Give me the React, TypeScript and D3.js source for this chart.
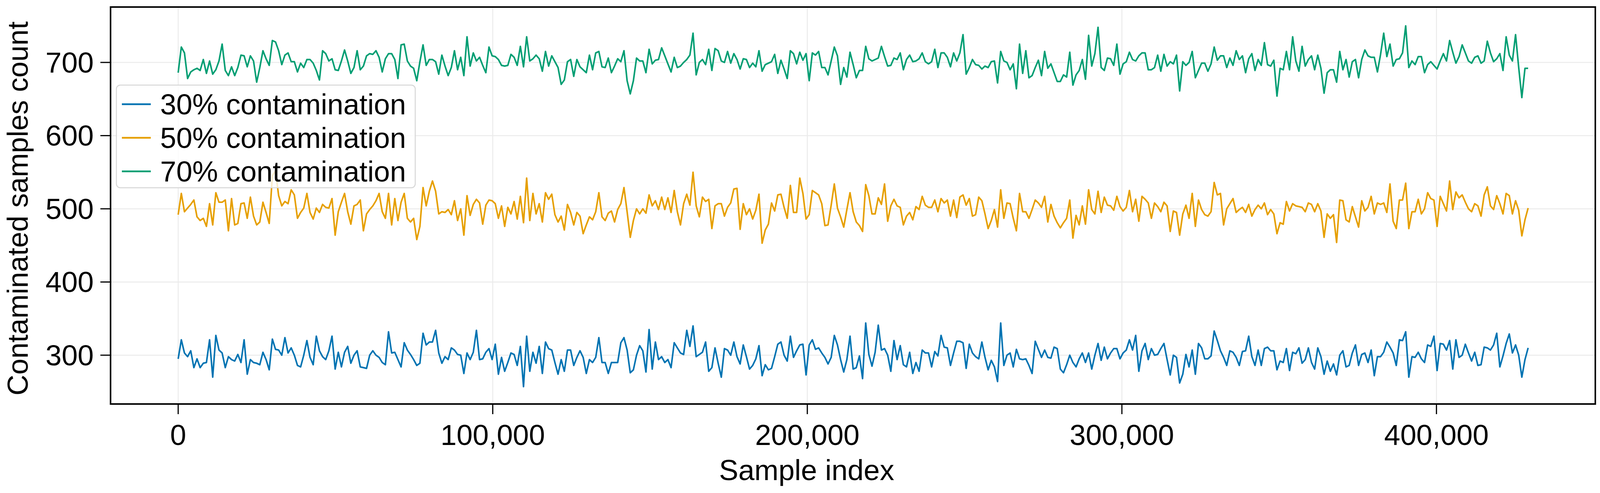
import { useRef, useEffect } from 'react';
import * as d3 from 'd3';

// Sample index step between recorded points
const SAMPLE_STEP = 998;

const contamination30 = [
    295, 321, 303, 298, 306, 283, 295, 283, 289, 290, 321, 270, 327, 307, 303, 283, 298, 294, 292, 301,
    290, 321, 274, 294, 290, 289, 287, 304, 294, 280, 322, 308, 307, 300, 324, 303, 310, 300, 286, 284,
    300, 320, 297, 287, 326, 306, 298, 294, 306, 326, 281, 304, 284, 304, 312, 289, 300, 306, 284, 283,
    282, 300, 306, 300, 297, 290, 287, 332, 303, 304, 294, 284, 317, 307, 301, 294, 286, 289, 330, 314,
    318, 318, 334, 303, 289, 298, 294, 310,
    307, 301, 300, 275, 303, 294, 304, 334, 294, 295, 304, 309, 294, 315, 274, 297, 278, 290, 303, 301,
    286, 312, 257, 326, 278, 304, 289, 312, 275, 318, 309, 307, 290, 274, 294, 278, 307, 307, 286, 297,
    306, 297, 275, 294, 290, 297, 324, 290, 290, 275, 290, 290, 290, 317, 324, 307, 276, 280, 300, 313,
    306, 277, 335, 281, 318, 294, 298, 290, 294, 283, 317, 310, 303, 301, 334, 312, 340, 298, 301, 304,
    318, 278, 283, 310, 289, 270, 309, 307,
    300, 318, 298, 288, 314, 298, 281, 286, 295, 313, 272, 287, 280, 282, 298, 315, 318, 300, 292, 326,
    297, 306, 314, 315, 273, 314, 321, 308, 310, 303, 297, 288, 297, 327, 314, 294, 277, 294, 326, 281,
    283, 299, 268, 344, 301, 285, 304, 341, 307, 309, 300, 278, 320, 294, 313, 287, 284, 304, 275, 290,
    278, 307, 303, 303, 284, 305, 299, 327, 311, 310, 286, 303, 319, 319, 317, 282, 315, 303, 298, 295,
    318, 297, 280, 293, 284, 264, 344, 286,
    300, 303, 284, 308, 295, 294, 295, 286, 275, 319, 308, 297, 307, 297, 296, 311, 309, 281, 276, 287,
    300, 290, 284, 295, 303, 290, 303, 281, 300, 316, 293, 311, 295, 303, 309, 309, 295, 303, 307, 321,
    307, 327, 278, 306, 316, 294, 309, 300, 301, 309, 316, 294, 273, 300, 297, 262, 274, 301, 284, 307,
    274, 316, 310, 295, 295, 299, 333, 320, 306, 297, 286, 306, 304, 297, 286, 305, 306, 326, 298, 286,
    307, 286, 309, 311, 306, 306, 280, 292,
    290, 309, 279, 304, 302, 310, 289, 294, 310, 290, 281, 310, 298, 274, 292, 278, 288, 273, 300, 306,
    284, 286, 303, 314, 286, 301, 303, 290, 307, 272, 298, 298, 304, 318, 311, 303, 286, 321, 320, 332,
    270, 298, 297, 304, 295, 290, 314, 312, 326, 279, 316, 315, 307, 320, 281, 321, 297, 300, 315, 303,
    292, 304, 286, 287, 311, 310, 307, 314, 330, 284, 299, 316, 329, 303, 314, 300, 270, 294, 310,
];

const contamination50 = [
    492, 521, 496, 501, 506, 512, 489, 484, 487, 476, 507, 478, 522, 509, 509, 512, 470, 514, 478, 480,
    507, 508, 487, 516, 490, 478, 482, 509, 495, 480, 545, 552, 518, 504, 510, 507, 526, 519, 487, 495,
    501, 521, 495, 486, 501, 495, 506, 502, 501, 514, 464, 496, 509, 521, 496, 479, 504, 506, 512, 470,
    493, 499, 504, 511, 521, 496, 487, 521, 478, 514, 484, 509, 521, 487, 482, 487, 458, 476, 529, 504,
    524, 538, 524, 493, 496, 495, 499, 492,
    511, 484, 500, 464, 518, 491, 506, 513, 508, 479, 505, 512, 511, 507, 487, 504, 476, 502, 493, 510,
    486, 517, 481, 542, 484, 521, 493, 507, 482, 522, 513, 520, 492, 482, 490, 471, 506, 495, 478, 495,
    490, 466, 478, 489, 485, 496, 522, 489, 484, 494, 497, 482, 499, 507, 529, 496, 461, 484, 500, 493,
    500, 494, 519, 504, 511, 499, 516, 499, 515, 495, 525, 496, 478, 507, 520, 505, 550, 504, 489, 516,
    510, 513, 473, 504, 507, 507, 490, 502,
    508, 527, 528, 472, 507, 492, 500, 486, 498, 520, 453, 471, 479, 508, 497, 519, 520, 502, 487, 532,
    495, 495, 542, 521, 486, 492, 525, 522, 519, 507, 477, 478, 505, 534, 501, 489, 475, 499, 522, 496,
    482, 477, 469, 533, 518, 493, 493, 515, 506, 534, 483, 504, 513, 504, 502, 478, 490, 495, 485, 503,
    499, 517, 505, 502, 502, 512, 496, 514, 508, 512, 490, 512, 488, 516, 519, 505, 514, 490, 492, 516,
    511, 493, 473, 484, 499, 475, 526, 487,
    508, 507, 487, 470, 521, 496, 496, 487, 499, 512, 508, 502, 517, 482, 506, 490, 481, 474, 481, 487,
    512, 460, 491, 478, 504, 479, 526, 499, 493, 524, 495, 516, 505, 504, 498, 517, 503, 497, 502, 525,
    496, 513, 483, 517, 513, 508, 487, 508, 503, 496, 509, 504, 469, 497, 495, 464, 493, 505, 487, 521,
    476, 512, 499, 492, 490, 496, 536, 519, 521, 478, 500, 507, 514, 495, 499, 502, 495, 506, 490, 499,
    505, 500, 508, 492, 499, 493, 466, 481,
    479, 510, 497, 507, 504, 503, 502, 496, 508, 506, 496, 507, 497, 461, 493, 487, 492, 454, 512, 511,
    485, 482, 503, 489, 475, 511, 497, 502, 517, 493, 508, 506, 508, 495, 534, 483, 473, 512, 512, 535,
    473, 496, 496, 513, 493, 500, 522, 514, 512, 476, 517, 507, 497, 538, 499, 523, 515, 519, 509, 500,
    496, 507, 504, 490, 519, 530, 504, 499, 518, 507, 493, 521, 518, 493, 511, 498, 463, 485, 501,
];

const contamination70 = [
    686, 721, 713, 678, 687, 690, 692, 689, 704, 685, 702, 684, 690, 702, 725, 689, 682, 694, 682, 693,
    710, 709, 694, 709, 702, 673, 693, 716, 705, 696, 730, 728, 716, 697, 710, 713, 701, 701, 687, 699,
    693, 704, 704, 699, 689, 676, 716, 712, 702, 705, 690, 689, 702, 717, 702, 685, 693, 716, 690, 695,
    709, 712, 711, 716, 707, 687, 705, 712, 712, 704, 678, 724, 725, 702, 695, 692, 675, 701, 724, 696,
    704, 704, 701, 684, 710, 695, 682, 693,
    716, 690, 707, 682, 735, 695, 713, 702, 707, 696, 686, 721, 709, 708, 704, 696, 695, 696, 711, 707,
    696, 722, 694, 735, 702, 705, 710, 705, 688, 715, 695, 709, 701, 693, 670, 676, 701, 704, 681, 704,
    694, 690, 686, 710, 690, 713, 715, 694, 693, 706, 686, 695, 705, 701, 716, 675, 657, 675, 706, 702,
    702, 686, 718, 698, 703, 704, 720, 709, 698, 687, 707, 693, 695, 700, 704, 710, 740, 683, 700, 704,
    697, 718, 689, 719, 716, 702, 700, 715,
    699, 712, 704, 691, 705, 704, 693, 699, 694, 716, 688, 697, 699, 701, 711, 685, 703, 691, 678, 716,
    712, 698, 714, 703, 712, 675, 713, 710, 715, 693, 693, 683, 702, 721, 709, 670, 693, 680, 714, 697,
    679, 689, 689, 722, 705, 702, 704, 706, 722, 708, 695, 696, 706, 704, 713, 690, 704, 710, 701, 702,
    705, 713, 701, 698, 701, 718, 693, 713, 713, 707, 694, 713, 702, 713, 738, 684, 693, 704, 697, 696,
    691, 695, 693, 701, 702, 672, 715, 702,
    700, 690, 698, 664, 725, 685, 716, 679, 682, 693, 703, 682, 715, 692, 698, 686, 674, 674, 683, 680,
    714, 669, 683, 689, 704, 677, 737, 695, 712, 748, 693, 689, 706, 705, 696, 725, 684, 698, 701, 714,
    704, 702, 709, 713, 713, 690, 690, 693, 710, 688, 711, 695, 701, 698, 710, 661, 701, 696, 700, 715,
    679, 689, 699, 699, 688, 698, 721, 703, 709, 709, 693, 706, 696, 716, 704, 709, 686, 705, 712, 689,
    704, 696, 727, 697, 695, 703, 654, 692,
    690, 715, 690, 735, 702, 688, 722, 695, 704, 709, 690, 710, 692, 658, 686, 690, 690, 673, 715, 690,
    704, 680, 701, 704, 679, 704, 717, 709, 707, 707, 687, 711, 740, 708, 725, 695, 704, 705, 713, 750,
    693, 702, 697, 708, 708, 686, 697, 701, 696, 691, 702, 712, 702, 730, 714, 699, 708, 724, 713, 702,
    699, 707, 709, 699, 702, 729, 713, 701, 705, 712, 689, 735, 710, 702, 738, 693, 652, 692, 692,
];

const seriesLabels = ['30% contamination', '50% contamination', '70% contamination'];
const seriesColors = ['#0173B2', '#E69F00', '#029E73'];
const seriesValues = [contamination30, contamination50, contamination70];

const xTickValues = [0, 100000, 200000, 300000, 400000];
const yTickValues = [300, 400, 500, 600, 700];

const X_LABEL = 'Sample index';
const Y_LABEL = 'Contaminated samples count';

export default function App() {
    const svgRef = useRef<SVGSVGElement>(null);
    const width = 4108;
    const height = 1263;

    useEffect(() => {
        if (!svgRef.current) return;

        const svg = d3.select(svgRef.current);
        svg.selectAll('*').remove();

        const font = '"Liberation Sans", Arial, Helvetica, sans-serif';
        const fontSize = 74;

        // Axes frame in pixels
        const left = 283;
        const right = 4084;
        const top = 18;
        const bottom = 1035;

        const xScale = d3.scaleLinear()
            .domain([-21500, 450500])
            .range([left, right]);

        const yScale = d3.scaleLinear()
            .domain([233.3, 775.7])
            .range([bottom, top]);

        svg.append('rect')
            .attr('width', width)
            .attr('height', height)
            .attr('fill', '#ffffff');

        // Grid
        const grid = svg.append('g').attr('class', 'grid');
        xTickValues.forEach(t => {
            grid.append('line')
                .attr('x1', xScale(t))
                .attr('x2', xScale(t))
                .attr('y1', top)
                .attr('y2', bottom)
                .attr('stroke', '#ebebeb')
                .attr('stroke-width', 2.5);
        });
        yTickValues.forEach(t => {
            grid.append('line')
                .attr('x1', left)
                .attr('x2', right)
                .attr('y1', yScale(t))
                .attr('y2', yScale(t))
                .attr('stroke', '#ebebeb')
                .attr('stroke-width', 2.5);
        });

        // Series lines
        const line = d3.line<number>()
            .x((_, i) => xScale(i * SAMPLE_STEP))
            .y(d => yScale(d));

        const lines = svg.append('g').attr('class', 'series');
        seriesValues.forEach((values, k) => {
            lines.append('path')
                .datum(values)
                .attr('d', line)
                .attr('fill', 'none')
                .attr('stroke', seriesColors[k])
                .attr('stroke-width', 4)
                .attr('stroke-linejoin', 'round');
        });

        // Legend
        const legend = svg.append('g').attr('class', 'legend');
        legend.append('rect')
            .attr('x', 298)
            .attr('y', 218)
            .attr('width', 765)
            .attr('height', 263)
            .attr('rx', 10)
            .attr('fill', 'rgba(255,255,255,0.8)')
            .attr('stroke', '#d6d6d6')
            .attr('stroke-width', 2.5);

        seriesLabels.forEach((label, k) => {
            const cy = 267 + k * 86;
            legend.append('line')
                .attr('x1', 312)
                .attr('x2', 386)
                .attr('y1', cy)
                .attr('y2', cy)
                .attr('stroke', seriesColors[k])
                .attr('stroke-width', 4.5);
            legend.append('text')
                .attr('x', 410)
                .attr('y', cy + 26)
                .attr('font-family', font)
                .attr('font-size', fontSize)
                .attr('fill', '#000')
                .text(label);
        });

        // Frame
        svg.append('rect')
            .attr('x', left)
            .attr('y', top)
            .attr('width', right - left)
            .attr('height', bottom - top)
            .attr('fill', 'none')
            .attr('stroke', '#000')
            .attr('stroke-width', 4);

        // X ticks
        const fmt = d3.format(',');
        const xAxis = svg.append('g').attr('class', 'x-axis');
        xTickValues.forEach(t => {
            xAxis.append('line')
                .attr('x1', xScale(t))
                .attr('x2', xScale(t))
                .attr('y1', bottom)
                .attr('y2', bottom + 26)
                .attr('stroke', '#000')
                .attr('stroke-width', 3);
            xAxis.append('text')
                .attr('x', xScale(t))
                .attr('y', 1140)
                .attr('text-anchor', 'middle')
                .attr('font-family', font)
                .attr('font-size', fontSize)
                .attr('fill', '#000')
                .text(fmt(t));
        });

        // Y ticks
        const yAxis = svg.append('g').attr('class', 'y-axis');
        yTickValues.forEach(t => {
            yAxis.append('line')
                .attr('x1', left - 26)
                .attr('x2', left)
                .attr('y1', yScale(t))
                .attr('y2', yScale(t))
                .attr('stroke', '#000')
                .attr('stroke-width', 3);
            yAxis.append('text')
                .attr('x', 240)
                .attr('y', yScale(t) + 26)
                .attr('text-anchor', 'end')
                .attr('font-family', font)
                .attr('font-size', fontSize)
                .attr('fill', '#000')
                .text(String(t));
        });

        // Axis titles
        svg.append('text')
            .attr('x', 2065)
            .attr('y', 1230)
            .attr('text-anchor', 'middle')
            .attr('font-family', font)
            .attr('font-size', fontSize)
            .attr('fill', '#000')
            .text(X_LABEL);

        svg.append('text')
            .attr('transform', 'translate(71,534) rotate(-90)')
            .attr('text-anchor', 'middle')
            .attr('font-family', font)
            .attr('font-size', fontSize)
            .attr('fill', '#000')
            .text(Y_LABEL);
    }, []);

    return (
        <svg
            ref={svgRef}
            width={width}
            height={height}
            style={{ position: 'absolute', left: 0, top: 0, display: 'block' }}
        />
    );
}
